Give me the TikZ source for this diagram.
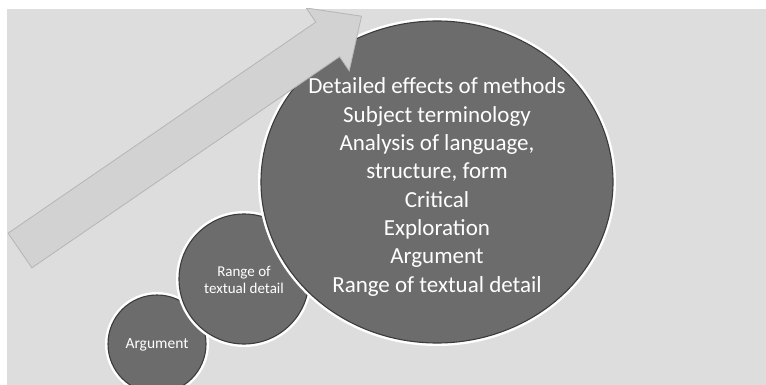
\documentclass[tikz,border=0pt]{standalone}
\usepackage{fontspec}
\setmainfont{Carlito}
\usetikzlibrary{shapes.geometric}
\definecolor{panel}{HTML}{DDDDDD}
\definecolor{arrowfill}{HTML}{D2D2D2}
\definecolor{arrowedge}{HTML}{B5B5B5}
\definecolor{bubble}{HTML}{6C6C6C}
\definecolor{bubbleedge}{HTML}{3C3C3C}
\tikzset{
  halo/.style={draw=white, line width=3pt},
  bubblebox/.style={ellipse, fill=bubble, draw=bubbleedge, line width=1.1pt, inner sep=0pt},
  bubbletext/.style={text=white, align=center, inner sep=0pt},
}
\begin{document}
\begin{tikzpicture}[x=1pt, y=-1pt]
  \useasboundingbox (0,0) rectangle (766,385);
  % grey backdrop
  \fill[panel] (7,9) rectangle (766,385);

  % ascending bubbles, smallest first
  \node[bubblebox, halo, minimum width=101pt, minimum height=101pt] at (157,344) {};
  \node[bubblebox, minimum width=98pt, minimum height=98pt] (small) at (157,344) {};
  \node[bubbletext, font=\fontsize{15.5}{18}\selectfont] (smalltext) at (157,345) {Argument};

  \node[bubblebox, halo, minimum width=133pt, minimum height=133pt] at (244,279) {};
  \node[bubblebox, minimum width=130pt, minimum height=130pt] (mid) at (244,279) {};
  \node[bubbletext, font=\fontsize{15}{17}\selectfont] (midtext) at (244,280) {Range of\\textual detail};

  \node[bubblebox, halo, minimum width=355pt, minimum height=325pt] at (437,182) {};
  \node[bubblebox, minimum width=352pt, minimum height=322pt] (big) at (437,182) {};
  \node[bubbletext, font=\fontsize{23}{28.3}\selectfont] (bigtext) at (437,187)
    {Detailed effects of methods\\Subject terminology\\Analysis of language,\\structure, form\\Critical\\Exploration\\Argument\\Range of textual detail};

  % rising block arrow, cut off at the top of the backdrop
  \begin{scope}
    \clip (7,9) rectangle (766,385);
    \draw[fill=arrowfill, draw=arrowedge, line width=0.8pt, line join=miter]
      (8.1,233.2) -- (315.8,22.1) -- (306.2,8.0) -- (361.5,16.2)
      -- (349.2,70.8) -- (339.6,56.7) -- (31.9,267.8) -- cycle;
  \end{scope}
\end{tikzpicture}
\end{document}
